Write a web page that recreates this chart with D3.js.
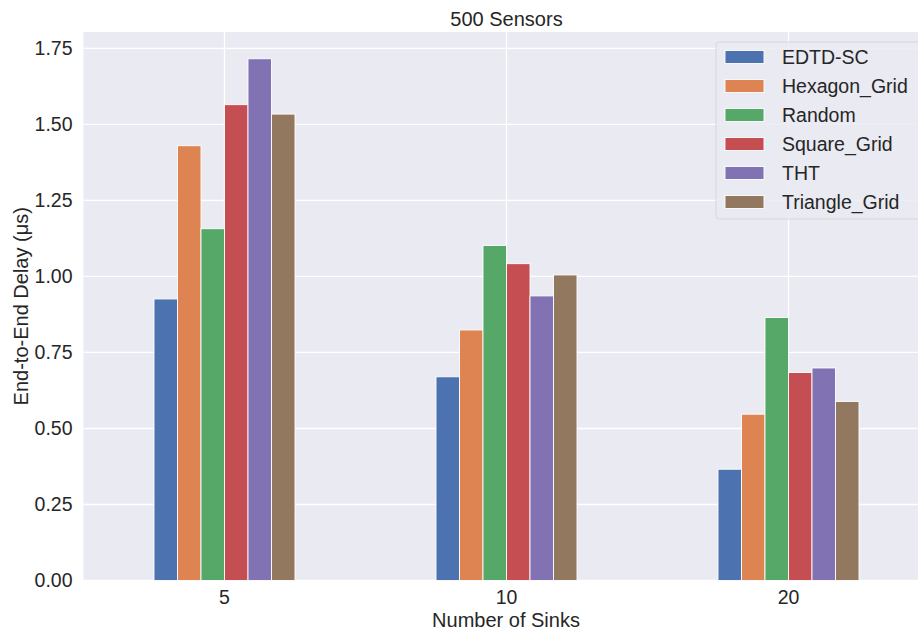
<!DOCTYPE html>
<html>
<head>
<meta charset="utf-8">
<script src="https://cdn.jsdelivr.net/npm/d3@7"></script>
<style>
  html, body { margin: 0; padding: 0; background: #ffffff; }
  svg { display: block; font-family: Arial, "Liberation Sans", sans-serif; }
</style>
</head>
<body>
<svg id="chart" width="918" height="634"></svg>
<script>
// Number of sinks on the x axis
const categories = ["5", "10", "20"];

// Deployment schemes (legend order)
const seriesNames = ["EDTD-SC", "Hexagon_Grid", "Random", "Square_Grid", "THT", "Triangle_Grid"];

// End-to-end delay (µs) per scheme, one value per sink count
const edtdSc       = [0.926, 0.670, 0.366];
const hexagonGrid  = [1.430, 0.824, 0.547];
const random       = [1.157, 1.102, 0.865];
const squareGrid   = [1.565, 1.042, 0.684];
const tht          = [1.716, 0.936, 0.699];
const triangleGrid = [1.534, 1.005, 0.589];

const yTicks = [0, 0.25, 0.5, 0.75, 1.0, 1.25, 1.5, 1.75];

const seriesValues = [edtdSc, hexagonGrid, random, squareGrid, tht, triangleGrid];
const palette = ["#4C72B0", "#DD8452", "#55A868", "#C44E52", "#8172B3", "#937860"];

const svg = d3.select("#chart");
const plot = { left: 83.5, right: 929.5, top: 32, bottom: 580.5 };

const x = d3.scaleBand().domain(categories).range([plot.left, plot.right]).padding(0);
const y = d3.scaleLinear().domain([0, 1.804]).range([plot.bottom, plot.top]);

// grouped bars take half of each category slot
const inner = d3.scaleBand().domain(seriesNames)
  .range([x.bandwidth() * 0.25, x.bandwidth() * 0.75]).padding(0);

// axes background
svg.append("rect")
  .attr("x", plot.left).attr("y", plot.top)
  .attr("width", plot.right - plot.left).attr("height", plot.bottom - plot.top)
  .attr("fill", "#EAEAF2");

// grid
const grid = svg.append("g").attr("stroke", "#ffffff").attr("stroke-width", 1.3);
grid.selectAll("line.h").data(yTicks).join("line")
  .attr("class", "h")
  .attr("x1", plot.left).attr("x2", plot.right)
  .attr("y1", d => y(d)).attr("y2", d => y(d));
grid.selectAll("line.v").data(categories).join("line")
  .attr("class", "v")
  .attr("x1", d => x(d) + x.bandwidth() / 2).attr("x2", d => x(d) + x.bandwidth() / 2)
  .attr("y1", plot.top).attr("y2", plot.bottom);

// bars
const rows = [];
seriesNames.forEach((name, si) => {
  categories.forEach((cat, ci) => {
    rows.push({ name, cat, value: seriesValues[si][ci], color: palette[si] });
  });
});
svg.append("g").selectAll("rect").data(rows).join("rect")
  .attr("x", d => x(d.cat) + inner(d.name))
  .attr("width", inner.bandwidth())
  .attr("y", d => y(d.value))
  .attr("height", d => y(0) - y(d.value))
  .attr("fill", d => d.color)
  .attr("stroke", "#ffffff")
  .attr("stroke-width", 0.9);

// y axis
const yAxis = d3.axisLeft(y).tickValues(yTicks).tickFormat(d3.format(".2f")).tickSize(0).tickPadding(11);
const yg = svg.append("g").attr("transform", `translate(${plot.left},0)`).call(yAxis);
yg.select(".domain").remove();
yg.selectAll("text").attr("font-size", 19.5).attr("fill", "#262626")
  .attr("font-family", "Arial, 'Liberation Sans', sans-serif");

// x axis
const xAxis = d3.axisBottom(x).tickSize(0).tickPadding(10);
const xg = svg.append("g").attr("transform", `translate(0,${plot.bottom})`).call(xAxis);
xg.select(".domain").remove();
xg.selectAll("text").attr("font-size", 19.5).attr("fill", "#262626")
  .attr("font-family", "Arial, 'Liberation Sans', sans-serif");

// titles
svg.append("text")
  .attr("x", (plot.left + plot.right) / 2).attr("y", 26)
  .attr("text-anchor", "middle").attr("font-size", 20).attr("fill", "#262626")
  .text("500 Sensors");

svg.append("text")
  .attr("x", (plot.left + plot.right) / 2 - 0.5).attr("y", 627)
  .attr("text-anchor", "middle").attr("font-size", 20).attr("fill", "#262626")
  .text("Number of Sinks");

svg.append("text")
  .attr("transform", `translate(28,${(plot.top + plot.bottom) / 2}) rotate(-90)`)
  .attr("text-anchor", "middle").attr("font-size", 20).attr("fill", "#262626")
  .text("End-to-End Delay (μs)");

// legend
const legend = svg.append("g").attr("transform", "translate(716,42)");
legend.append("rect")
  .attr("x", 0).attr("y", 0).attr("width", 210).attr("height", 177)
  .attr("rx", 3).attr("ry", 3)
  .attr("fill", "#EAEAF2").attr("fill-opacity", 0.85)
  .attr("stroke", "#d6d6dc").attr("stroke-width", 1);
const item = legend.selectAll("g.item").data(seriesNames).join("g")
  .attr("class", "item")
  .attr("transform", (d, i) => `translate(0,${15 + i * 29})`);
item.append("rect")
  .attr("x", 9).attr("y", -6.5).attr("width", 39).attr("height", 13)
  .attr("fill", (d, i) => palette[i]).attr("stroke", "#ffffff").attr("stroke-width", 0.9);
item.append("text")
  .attr("x", 66).attr("y", 7)
  .attr("font-size", 19.5).attr("fill", "#262626")
  .text(d => d);
</script>
</body>
</html>
